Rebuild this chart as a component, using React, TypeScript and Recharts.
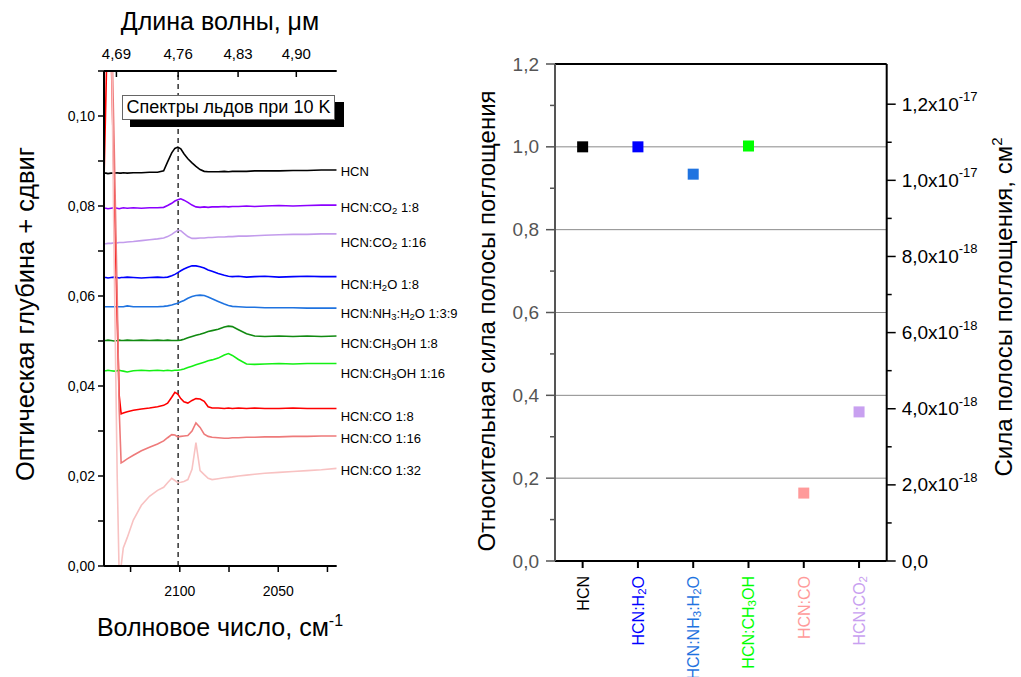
import React from 'react';
import {
  LineChart, Line, XAxis, YAxis, ReferenceLine, ReferenceDot,
  ScatterChart, Scatter, Cell,
} from 'recharts';

const FONT = '"Liberation Sans", Arial, Helvetica, sans-serif';

// ---------- Left panel: ice spectra (wavenumber, cm^-1) ----------
const wavenumbers = [
  2138.5, 2137.5, 2136.5, 2134.9, 2133.4, 2131.8, 2130.8, 2129.8, 2128.7, 2126.7,
  2123.6, 2119.5, 2115.4, 2111.3, 2108.2, 2106.2, 2104.1, 2102.5, 2101.0, 2099.5,
  2097.9, 2095.9, 2093.8, 2091.8, 2089.7, 2087.6, 2085.6, 2083.6, 2080.5, 2077.4,
  2075.3, 2073.3, 2070.2, 2066.1, 2062.0, 2056.8, 2049.6, 2042.5, 2035.3, 2028.1, 2020.3,
];

const hcn = [
  0.0873, 0.0873, 0.0872, 0.0873, 0.0873, 0.0874, 0.0873, 0.0873, 0.0874, 0.0873,
  0.0874, 0.0874, 0.0875, 0.0875, 0.0878, 0.0898, 0.0918, 0.0928, 0.0931, 0.0927,
  0.0916, 0.0905, 0.0896, 0.0888, 0.0881, 0.0877, 0.0876, 0.0876, 0.0876, 0.0877,
  0.0876, 0.0877, 0.0877, 0.0877, 0.0878, 0.0878, 0.0878, 0.0879, 0.0879, 0.0880, 0.0880,
];
const co2_1_8 = [
  0.0795, 0.0795, 0.0794, 0.0795, 0.0796, 0.0795, 0.0794, 0.0795, 0.0796, 0.0795,
  0.0796, 0.0795, 0.0796, 0.0796, 0.0797, 0.0801, 0.0806, 0.0811, 0.0814, 0.0816,
  0.0813, 0.0808, 0.0802, 0.0798, 0.0797, 0.0798, 0.0797, 0.0798, 0.0798, 0.0799,
  0.0798, 0.0799, 0.0799, 0.0800, 0.0799, 0.0800, 0.0801, 0.0800, 0.0801, 0.0802, 0.0802,
];
const co2_1_16 = [
  0.0716, 0.0716, 0.0717, 0.0717, 0.0718, 0.0718, 0.0719, 0.0719, 0.0719, 0.0720,
  0.0721, 0.0723, 0.0725, 0.0727, 0.0729, 0.0732, 0.0737, 0.0742, 0.0746, 0.0745,
  0.0739, 0.0732, 0.0728, 0.0728, 0.0729, 0.0729, 0.0730, 0.0730, 0.0731, 0.0731,
  0.0732, 0.0732, 0.0733, 0.0733, 0.0734, 0.0735, 0.0736, 0.0737, 0.0737, 0.0738, 0.0738,
];
const h2o_1_8 = [
  0.0641, 0.0641, 0.0640, 0.0641, 0.0642, 0.0641, 0.0640, 0.0641, 0.0641, 0.0642,
  0.0641, 0.0640, 0.0641, 0.0642, 0.0641, 0.0642, 0.0645, 0.0648, 0.0652, 0.0656,
  0.0660, 0.0664, 0.0667, 0.0667, 0.0665, 0.0662, 0.0658, 0.0655, 0.0650, 0.0646,
  0.0644, 0.0643, 0.0644, 0.0642, 0.0643, 0.0644, 0.0642, 0.0643, 0.0644, 0.0643, 0.0643,
];
const nh3_h2o = [
  0.0576, 0.0576, 0.0576, 0.0576, 0.0576, 0.0576, 0.0576, 0.0576, 0.0576, 0.0578,
  0.0576, 0.0576, 0.0576, 0.0576, 0.0577, 0.0578, 0.0580, 0.0582, 0.0584, 0.0587,
  0.0590, 0.0595, 0.0599, 0.0601, 0.0602, 0.0601, 0.0598, 0.0594, 0.0588, 0.0582,
  0.0579, 0.0577, 0.0576, 0.0575, 0.0575, 0.0574, 0.0574, 0.0574, 0.0573, 0.0573, 0.0573,
];
const ch3oh_1_8 = [
  0.0501, 0.0501, 0.0502, 0.0501, 0.0500, 0.0501, 0.0502, 0.0501, 0.0501, 0.0502,
  0.0501, 0.0502, 0.0501, 0.0502, 0.0501, 0.0502, 0.0501, 0.0501, 0.0501, 0.0502,
  0.0504, 0.0507, 0.0510, 0.0513, 0.0515, 0.0518, 0.0521, 0.0523, 0.0526, 0.0531,
  0.0533, 0.0532, 0.0525, 0.0516, 0.0511, 0.0510, 0.0511, 0.0510, 0.0511, 0.0510, 0.0511,
];
const ch3oh_1_16 = [
  0.0434, 0.0434, 0.0435, 0.0434, 0.0433, 0.0434, 0.0435, 0.0434, 0.0433, 0.0431,
  0.0434, 0.0435, 0.0434, 0.0435, 0.0434, 0.0435, 0.0434, 0.0435, 0.0435, 0.0436,
  0.0438, 0.0441, 0.0444, 0.0447, 0.0450, 0.0453, 0.0456, 0.0458, 0.0462, 0.0469,
  0.0472, 0.0468, 0.0459, 0.0449, 0.0448, 0.0449, 0.0450, 0.0449, 0.0450, 0.0450, 0.0450,
];
const co_1_8 = [
  0.0858, 0.105, 0.125, 0.115, 0.085, 0.055, 0.038, 0.0338, 0.0340, 0.0343,
  0.0346, 0.0349, 0.0351, 0.0354, 0.0357, 0.0362, 0.0375, 0.0386, 0.0382, 0.0372,
  0.0365, 0.0362, 0.0368, 0.0372, 0.0371, 0.0366, 0.0354, 0.0351, 0.0351, 0.0350,
  0.0351, 0.0350, 0.0351, 0.0350, 0.0351, 0.0350, 0.0350, 0.0351, 0.0350, 0.0350, 0.0350,
];
const co_1_16 = [
  0.14, 0.14, 0.135, 0.125, 0.095, 0.06, 0.035, 0.0229, 0.0232, 0.0238,
  0.0246, 0.0256, 0.0264, 0.0271, 0.0278, 0.0285, 0.0292, 0.0291, 0.0287, 0.0288,
  0.0289, 0.0290, 0.0300, 0.0318, 0.0308, 0.0293, 0.0288, 0.0286, 0.0285, 0.0284,
  0.0284, 0.0285, 0.0285, 0.0286, 0.0286, 0.0287, 0.0287, 0.0288, 0.0288, 0.0289, 0.0289,
];
const co_1_32 = [
  0.15, 0.15, 0.145, 0.125, 0.07, 0.02, -0.002, 0.0, 0.004, 0.0063,
  0.0102, 0.0135, 0.0155, 0.0168, 0.0175, 0.0185, 0.0195, 0.0190, 0.0185, 0.0186,
  0.0188, 0.0192, 0.0215, 0.0274, 0.0212, 0.0203, 0.0195, 0.0192, 0.0194, 0.0196,
  0.0197, 0.0198, 0.0200, 0.0202, 0.0204, 0.0206, 0.0208, 0.0210, 0.0212, 0.0214, 0.0217,
];

const spectra = [
  { key: 'hcn', label: 'HCN', values: hcn, color: '#000000', dy: 1 },
  { key: 'co2_1_8', label: 'HCN:CO2 1:8', values: co2_1_8, color: '#8B00FF', dy: 2 },
  { key: 'co2_1_16', label: 'HCN:CO2 1:16', values: co2_1_16, color: '#C39CEC', dy: 8 },
  { key: 'h2o_1_8', label: 'HCN:H2O 1:8', values: h2o_1_8, color: '#0000FF', dy: 7 },
  { key: 'nh3_h2o', label: 'HCN:NH3:H2O 1:3:9', values: nh3_h2o, color: '#1F73E0', dy: 5 },
  { key: 'ch3oh_1_8', label: 'HCN:CH3OH 1:8', values: ch3oh_1_8, color: '#118A11', dy: 7 },
  { key: 'ch3oh_1_16', label: 'HCN:CH3OH 1:16', values: ch3oh_1_16, color: '#14F014', dy: 9 },
  { key: 'co_1_8', label: 'HCN:CO 1:8', values: co_1_8, color: '#FF0000', dy: 7 },
  { key: 'co_1_16', label: 'HCN:CO 1:16', values: co_1_16, color: '#EE7A7A', dy: 2 },
  { key: 'co_1_32', label: 'HCN:CO 1:32', values: co_1_32, color: '#F8C2C2', dy: 2 },
];

const specYTicks = [0, 0.01, 0.02, 0.03, 0.04, 0.05, 0.06, 0.07, 0.08, 0.09, 0.1, 0.11];
const specBottomTicks = [2125, 2100, 2075, 2050, 2025];
const specBottomLabels = [2100, 2050];
const topTicksMicron = [4.69, 4.76, 4.83, 4.9];
const markerMicron = 4.76;

const spectraData = wavenumbers.map((w, i) => {
  const row: Record<string, number> = { w };
  spectra.forEach((s) => { row[s.key] = s.values[i]; });
  return row;
});

// ---------- Right panel: band strengths ----------
const categories = ['HCN', 'HCN:H2O', 'HCN:NH3:H2O', 'HCN:CH3OH', 'HCN:CO', 'HCN:CO2'];
const relStrength = [1.0, 1.0, 0.934, 1.002, 0.164, 0.36];
const catColors = ['#000000', '#0000FF', '#1F73E0', '#00FF00', '#FF9A9A', '#C8A0F0'];
const relTicks = [0, 0.1, 0.2, 0.3, 0.4, 0.5, 0.6, 0.7, 0.8, 0.9, 1.0, 1.1, 1.2];
const relGrid = [0.2, 0.4, 0.6, 0.8, 1.0];
const HCN_ABS = 1.088e-17;
const absTicks = [0, 1e-18, 2e-18, 3e-18, 4e-18, 5e-18, 6e-18, 7e-18, 8e-18, 9e-18, 1e-17, 1.1e-17, 1.2e-17];

const strengthData = categories.map((name, i) => ({ name, rel: relStrength[i] }));

// ---------- helpers ----------
function chemParts(s: string) {
  const parts: { t: string; sub: boolean }[] = [];
  for (let i = 0; i < s.length; i++) {
    const ch = s[i];
    const isSub = /[0-9]/.test(ch) && i > 0 && /[A-Za-z]/.test(s[i - 1]);
    const last = parts[parts.length - 1];
    if (last && last.sub === isSub) last.t += ch;
    else parts.push({ t: ch, sub: isSub });
  }
  return parts;
}

function Chem({ text, size, subSize, shift }: { text: string; size: number; subSize: number; shift: number }) {
  const parts = chemParts(text);
  return (
    <>
      {parts.map((p, i) => {
        const prevSub = i > 0 && parts[i - 1].sub;
        const dy = p.sub ? shift : prevSub ? -shift : 0;
        return (
          <tspan key={i} dy={dy} fontSize={p.sub ? subSize : size}>{p.t}</tspan>
        );
      })}
    </>
  );
}

const SpecYTick = (props: any) => {
  const { x, y, payload } = props;
  const n = Math.round(payload.value * 100);
  const labeled = n % 2 === 0 && n <= 10;
  return (
    <g>
      <line x1={x - 6} y1={y} x2={x} y2={y} stroke="#000" strokeWidth={1.5} />
      {labeled && (
        <text x={x - 9} y={y} textAnchor="end" dominantBaseline="central" fontSize={14} fontFamily={FONT} fill="#000">
          {(n / 100).toFixed(2).replace('.', ',')}
        </text>
      )}
    </g>
  );
};

const SpecBottomTick = (props: any) => {
  const { x, y, payload } = props;
  const v = payload.value;
  return (
    <g>
      <line x1={x} y1={y} x2={x} y2={y + 6} stroke="#000" strokeWidth={1.5} />
      {specBottomLabels.includes(v) && (
        <text x={x} y={y + 25} textAnchor="middle" dominantBaseline="central" fontSize={14} fontFamily={FONT} fill="#000">
          {v}
        </text>
      )}
    </g>
  );
};

const SpecTopTick = (props: any) => {
  const { x, y, payload } = props;
  const um = 10000 / payload.value;
  return (
    <g>
      <line x1={x} y1={y} x2={x} y2={y + 6} stroke="#000" strokeWidth={1.5} />
      <text x={x} y={y - 18} textAnchor="middle" dominantBaseline="central" fontSize={15} fontFamily={FONT} fill="#000">
        {um.toFixed(2).replace('.', ',')}
      </text>
    </g>
  );
};

const RelTick = (props: any) => {
  const { x, y, payload } = props;
  const n = Math.round(payload.value * 10);
  const major = n % 2 === 0;
  return (
    <g>
      <line x1={x - (major ? 9 : 5)} y1={y} x2={x} y2={y} stroke="#555" strokeWidth={1.5} />
      {major && (
        <text x={x - 16} y={y} textAnchor="end" dominantBaseline="central" fontSize={19} fontFamily={FONT} fill="#555">
          {(n / 10).toFixed(1).replace('.', ',')}
        </text>
      )}
    </g>
  );
};

const AbsTick = (props: any) => {
  const { x, y, payload } = props;
  const n = Math.round(payload.value / 1e-18);
  const major = n % 2 === 0;
  let label: React.ReactNode = null;
  if (major) {
    if (n === 0) {
      label = (
        <text x={x + 15} y={y} dominantBaseline="central" fontSize={19} fontFamily={FONT} fill="#000">0,0</text>
      );
    } else {
      const big = n >= 10;
      const mant = (big ? n / 10 : n).toFixed(1).replace('.', ',');
      const exp = big ? '-17' : '-18';
      label = (
        <text x={x + 15} y={y} dominantBaseline="central" fontSize={19} fontFamily={FONT} fill="#000">
          {mant}x10<tspan dy={-8} fontSize={13}>{exp}</tspan>
        </text>
      );
    }
  }
  return (
    <g>
      <line x1={x} y1={y} x2={x + (major ? 9 : 5)} y2={y} stroke="#000" strokeWidth={1.5} />
      {label}
    </g>
  );
};

const CatTick = (props: any) => {
  const { x, y, payload } = props;
  const name = String(payload.value);
  const color = catColors[categories.indexOf(name)] || '#000';
  const ty = y + 15;
  return (
    <g>
      <line x1={x} y1={y} x2={x} y2={y + 7} stroke="#000" strokeWidth={2} />
      <text
        transform={`rotate(-90, ${x}, ${ty})`}
        x={x}
        y={ty}
        textAnchor="end"
        dominantBaseline="central"
        fontSize={16}
        fontFamily={FONT}
        fill={color}
      >
        <Chem text={name} size={16} subSize={11.5} shift={4} />
      </text>
    </g>
  );
};

const SquareShape = (props: any) => {
  const { cx, cy } = props;
  const name = props.payload ? props.payload.name : undefined;
  const fill = props.fill && props.fill !== 'none' ? props.fill : catColors[categories.indexOf(name)];
  return <rect x={cx - 5.5} y={cy - 5.5} width={11} height={11} fill={fill} />;
};

const titleBase: React.CSSProperties = {
  position: 'absolute',
  fontFamily: FONT,
  color: '#000',
  whiteSpace: 'nowrap',
  lineHeight: 1,
};

export default function App() {
  const last = wavenumbers.length - 1;
  const specDomain = [wavenumbers[last], wavenumbers[0]];
  return (
    <div style={{ position: 'absolute', left: 0, top: 0, width: 1021, height: 677, background: '#fff', overflow: 'hidden', fontFamily: FONT }}>
      {/* Left panel */}
      <div style={{ position: 'absolute', left: 0, top: 0 }}>
        <LineChart
          width={470}
          height={677}
          data={spectraData}
          margin={{ top: 41, right: 133.3, bottom: 81, left: 64 }}
        >
          <XAxis
            xAxisId="bottom"
            dataKey="w"
            type="number"
            domain={specDomain}
            allowDataOverflow
            reversed
            ticks={specBottomTicks}
            interval={0}
            tick={<SpecBottomTick />}
            tickLine={false}
            tickSize={0}
            tickMargin={0}
            height={30}
            axisLine={{ stroke: '#000', strokeWidth: 2 }}
          />
          <XAxis
            xAxisId="top"
            orientation="top"
            dataKey="w"
            type="number"
            domain={specDomain}
            allowDataOverflow
            reversed
            ticks={topTicksMicron.map((m) => 10000 / m)}
            interval={0}
            tick={<SpecTopTick />}
            tickLine={false}
            tickSize={0}
            tickMargin={0}
            height={30}
            axisLine={{ stroke: '#000', strokeWidth: 2 }}
          />
          <YAxis
            yAxisId="y"
            type="number"
            domain={[0, 0.11]}
            allowDataOverflow
            ticks={specYTicks}
            interval={0}
            tick={<SpecYTick />}
            tickLine={false}
            tickSize={0}
            tickMargin={0}
            width={40}
            axisLine={{ stroke: '#000', strokeWidth: 2 }}
          />
          <ReferenceLine
            xAxisId="bottom"
            yAxisId="y"
            x={10000 / markerMicron}
            stroke="#333"
            strokeWidth={1.5}
            strokeDasharray="5 4"
          />
          {spectra.map((s) => (
            <Line
              key={s.key}
              xAxisId="bottom"
              yAxisId="y"
              dataKey={s.key}
              type="linear"
              stroke={s.color}
              strokeWidth={1.6}
              dot={false}
              activeDot={false}
              isAnimationActive={false}
            />
          ))}
          {spectra.map((s) => (
            <ReferenceDot
              key={`lbl-${s.key}`}
              xAxisId="bottom"
              yAxisId="y"
              x={wavenumbers[last]}
              y={s.values[last]}
              ifOverflow="visible"
              shape={(p: any) => (
                <text
                  x={p.cx + 4}
                  y={p.cy + s.dy}
                  dominantBaseline="central"
                  fontSize={13}
                  fontFamily={FONT}
                  fill="#000"
                >
                  <Chem text={s.label} size={13} subSize={9.5} shift={3} />
                </text>
              )}
            />
          ))}
        </LineChart>
      </div>

      {/* annotation box */}
      <div style={{ position: 'absolute', left: 130, top: 102, width: 214, height: 25, background: '#000' }} />
      <div
        style={{
          position: 'absolute', left: 122, top: 95, width: 211, height: 23,
          background: '#fff', border: '1px solid #666', fontSize: 18, lineHeight: '23px',
          textAlign: 'center', fontFamily: FONT, whiteSpace: 'nowrap',
        }}
      >
        Спектры льдов при 10 K
      </div>

      {/* Left panel titles */}
      <div style={{ ...titleBase, left: 220, top: 21, fontSize: 25, transform: 'translate(-50%, -50%)' }}>
        Длина волны, μм
      </div>
      <div style={{ ...titleBase, left: 220, top: 627, fontSize: 25, transform: 'translate(-50%, -50%)' }}>
        Волновое число, см<span style={{ fontSize: 16, position: 'relative', top: -10 }}>-1</span>
      </div>
      <div style={{ ...titleBase, left: 26, top: 314, fontSize: 25.5, transform: 'translate(-50%, -50%) rotate(-90deg)' }}>
        Оптическая глубина + сдвиг
      </div>

      {/* Right panel */}
      <div style={{ position: 'absolute', left: 455, top: 0 }}>
        <ScatterChart
          width={566}
          height={677}
          margin={{ top: 64, right: 34.3, bottom: 76, left: 40 }}
        >
          <XAxis
            xAxisId="x"
            type="category"
            dataKey="name"
            allowDuplicatedCategory={false}
            interval={0}
            tick={<CatTick />}
            tickLine={false}
            tickSize={0}
            tickMargin={0}
            height={40}
            axisLine={{ stroke: '#000', strokeWidth: 2 }}
          />
          <YAxis
            yAxisId="rel"
            type="number"
            domain={[0, 1.2]}
            allowDataOverflow
            ticks={relTicks}
            interval={0}
            tick={<RelTick />}
            tickLine={false}
            tickSize={0}
            tickMargin={0}
            width={60}
            axisLine={{ stroke: '#555', strokeWidth: 2 }}
          />
          <YAxis
            yAxisId="abs"
            orientation="right"
            type="number"
            domain={[0, 1.2 * HCN_ABS]}
            allowDataOverflow
            ticks={absTicks}
            interval={0}
            tick={<AbsTick />}
            tickLine={false}
            tickSize={0}
            tickMargin={0}
            width={100}
            axisLine={{ stroke: '#000', strokeWidth: 2 }}
          />
          {relGrid.map((g) => (
            <ReferenceLine key={g} xAxisId="x" yAxisId="rel" y={g} stroke="#8a8a8a" strokeWidth={1} />
          ))}
          <ReferenceLine xAxisId="x" yAxisId="rel" y={1.2} stroke="#000" strokeWidth={2} />
          <Scatter
            xAxisId="x"
            yAxisId="rel"
            data={strengthData}
            dataKey="rel"
            shape={<SquareShape />}
            isAnimationActive={false}
          >
            {strengthData.map((d, i) => (
              <Cell key={d.name} fill={catColors[i]} />
            ))}
          </Scatter>
        </ScatterChart>
      </div>

      {/* Right panel titles */}
      <div style={{ ...titleBase, left: 487, top: 321, fontSize: 24, transform: 'translate(-50%, -50%) rotate(-90deg)' }}>
        Относительная сила полосы поглощения
      </div>
      <div style={{ ...titleBase, left: 1004, top: 307, fontSize: 24, transform: 'translate(-50%, -50%) rotate(-90deg)' }}>
        Сила полосы поглощения, см<span style={{ fontSize: 15, position: 'relative', top: -10 }}>2</span>
      </div>
    </div>
  );
}
